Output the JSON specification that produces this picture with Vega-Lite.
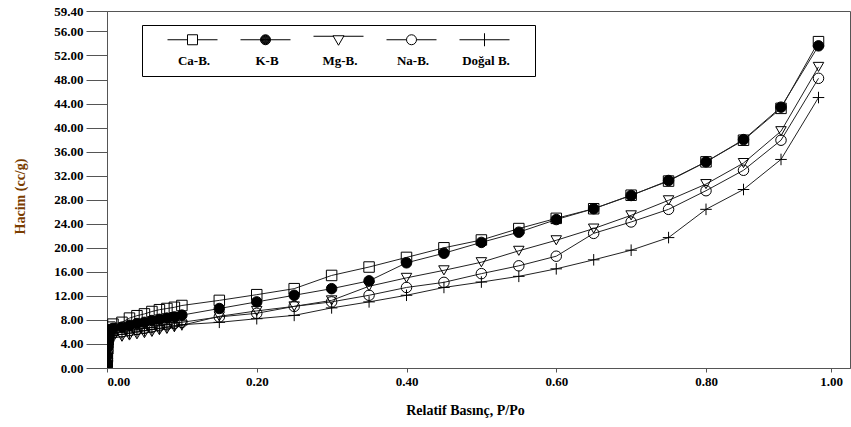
{
  "$schema": "https://vega.github.io/schema/vega-lite/v6.json",
  "width": 743,
  "height": 357,
  "autosize": {"type": "none"},
  "padding": {"left": 107, "top": 11, "right": 1, "bottom": 59},
  "background": "white",
  "config": {
    "view": {"stroke": "#555", "strokeWidth": 1},
    "axis": {
      "labelFont": "Liberation Serif", "labelFontSize": 13, "labelFontWeight": "bold", "labelColor": "black",
      "titleFont": "Liberation Serif", "titleFontSize": 14, "titleFontWeight": "bold", "titleColor": "black",
      "domainColor": "#555", "tickColor": "#555", "grid": false
    }
  },
  "data": {"values": [
    {"seri":"Ca-B.","p":0.0002,"v":0.4},{"seri":"Ca-B.","p":0.0005,"v":1.8},{"seri":"Ca-B.","p":0.001,"v":3.3},{"seri":"Ca-B.","p":0.0015,"v":4.7},{"seri":"Ca-B.","p":0.002,"v":5.8},{"seri":"Ca-B.","p":0.004,"v":6.8},{"seri":"Ca-B.","p":0.008,"v":7.3},
    {"seri":"Ca-B.","p":0.02,"v":7.6},{"seri":"Ca-B.","p":0.03,"v":8.3},{"seri":"Ca-B.","p":0.04,"v":8.7},{"seri":"Ca-B.","p":0.05,"v":9.0},{"seri":"Ca-B.","p":0.06,"v":9.4},{"seri":"Ca-B.","p":0.07,"v":9.7},{"seri":"Ca-B.","p":0.08,"v":9.9},{"seri":"Ca-B.","p":0.09,"v":10.1},{"seri":"Ca-B.","p":0.10,"v":10.4},
    {"seri":"Ca-B.","p":0.15,"v":11.25},{"seri":"Ca-B.","p":0.20,"v":12.2},{"seri":"Ca-B.","p":0.25,"v":13.2},{"seri":"Ca-B.","p":0.30,"v":15.4},{"seri":"Ca-B.","p":0.35,"v":16.8},{"seri":"Ca-B.","p":0.40,"v":18.4},{"seri":"Ca-B.","p":0.45,"v":20.0},{"seri":"Ca-B.","p":0.50,"v":21.3},{"seri":"Ca-B.","p":0.55,"v":23.2},{"seri":"Ca-B.","p":0.60,"v":24.9},{"seri":"Ca-B.","p":0.65,"v":26.5},{"seri":"Ca-B.","p":0.70,"v":28.75},{"seri":"Ca-B.","p":0.75,"v":31.1},{"seri":"Ca-B.","p":0.80,"v":34.3},{"seri":"Ca-B.","p":0.86,"v":37.9},{"seri":"Ca-B.","p":0.92,"v":43.2},{"seri":"Ca-B.","p":0.98,"v":54.3},

    {"seri":"K-B","p":0.0002,"v":0.6},{"seri":"K-B","p":0.0005,"v":2.0},{"seri":"K-B","p":0.001,"v":3.5},{"seri":"K-B","p":0.0015,"v":4.8},{"seri":"K-B","p":0.002,"v":5.7},{"seri":"K-B","p":0.004,"v":6.4},{"seri":"K-B","p":0.008,"v":6.6},
    {"seri":"K-B","p":0.02,"v":6.8},{"seri":"K-B","p":0.03,"v":7.1},{"seri":"K-B","p":0.04,"v":7.4},{"seri":"K-B","p":0.05,"v":7.6},{"seri":"K-B","p":0.06,"v":7.9},{"seri":"K-B","p":0.07,"v":8.1},{"seri":"K-B","p":0.08,"v":8.3},{"seri":"K-B","p":0.09,"v":8.5},{"seri":"K-B","p":0.10,"v":8.8},
    {"seri":"K-B","p":0.15,"v":9.9},{"seri":"K-B","p":0.20,"v":11.0},{"seri":"K-B","p":0.25,"v":12.1},{"seri":"K-B","p":0.30,"v":13.2},{"seri":"K-B","p":0.35,"v":14.5},{"seri":"K-B","p":0.40,"v":17.5},{"seri":"K-B","p":0.45,"v":19.1},{"seri":"K-B","p":0.50,"v":20.9},{"seri":"K-B","p":0.55,"v":22.6},{"seri":"K-B","p":0.60,"v":24.7},{"seri":"K-B","p":0.65,"v":26.5},{"seri":"K-B","p":0.70,"v":28.7},{"seri":"K-B","p":0.75,"v":31.2},{"seri":"K-B","p":0.80,"v":34.3},{"seri":"K-B","p":0.86,"v":38.0},{"seri":"K-B","p":0.92,"v":43.4},{"seri":"K-B","p":0.98,"v":53.6},

    {"seri":"Mg-B.","p":0.0002,"v":0.3},{"seri":"Mg-B.","p":0.0005,"v":1.4},{"seri":"Mg-B.","p":0.001,"v":2.6},{"seri":"Mg-B.","p":0.0015,"v":3.6},{"seri":"Mg-B.","p":0.002,"v":4.3},{"seri":"Mg-B.","p":0.004,"v":4.8},{"seri":"Mg-B.","p":0.008,"v":5.0},
    {"seri":"Mg-B.","p":0.02,"v":5.2},{"seri":"Mg-B.","p":0.03,"v":5.4},{"seri":"Mg-B.","p":0.04,"v":5.6},{"seri":"Mg-B.","p":0.05,"v":5.8},{"seri":"Mg-B.","p":0.06,"v":6.0},{"seri":"Mg-B.","p":0.07,"v":6.3},{"seri":"Mg-B.","p":0.08,"v":6.5},{"seri":"Mg-B.","p":0.09,"v":6.8},{"seri":"Mg-B.","p":0.10,"v":7.1},
    {"seri":"Mg-B.","p":0.15,"v":8.6},{"seri":"Mg-B.","p":0.20,"v":9.5},{"seri":"Mg-B.","p":0.25,"v":10.25},{"seri":"Mg-B.","p":0.30,"v":11.25},{"seri":"Mg-B.","p":0.35,"v":13.6},{"seri":"Mg-B.","p":0.40,"v":15.0},{"seri":"Mg-B.","p":0.45,"v":16.25},{"seri":"Mg-B.","p":0.50,"v":17.6},{"seri":"Mg-B.","p":0.55,"v":19.5},{"seri":"Mg-B.","p":0.60,"v":21.25},{"seri":"Mg-B.","p":0.65,"v":23.2},{"seri":"Mg-B.","p":0.70,"v":25.4},{"seri":"Mg-B.","p":0.75,"v":27.9},{"seri":"Mg-B.","p":0.80,"v":30.6},{"seri":"Mg-B.","p":0.86,"v":34.1},{"seri":"Mg-B.","p":0.92,"v":39.4},{"seri":"Mg-B.","p":0.98,"v":50.1},

    {"seri":"Na-B.","p":0.0002,"v":0.5},{"seri":"Na-B.","p":0.0005,"v":1.6},{"seri":"Na-B.","p":0.001,"v":2.9},{"seri":"Na-B.","p":0.0015,"v":4.0},{"seri":"Na-B.","p":0.002,"v":4.9},{"seri":"Na-B.","p":0.004,"v":5.5},{"seri":"Na-B.","p":0.008,"v":5.8},
    {"seri":"Na-B.","p":0.02,"v":6.0},{"seri":"Na-B.","p":0.03,"v":6.2},{"seri":"Na-B.","p":0.04,"v":6.4},{"seri":"Na-B.","p":0.05,"v":6.6},{"seri":"Na-B.","p":0.06,"v":6.8},{"seri":"Na-B.","p":0.07,"v":7.0},{"seri":"Na-B.","p":0.08,"v":7.2},{"seri":"Na-B.","p":0.09,"v":7.4},{"seri":"Na-B.","p":0.10,"v":7.6},
    {"seri":"Na-B.","p":0.15,"v":8.5},{"seri":"Na-B.","p":0.20,"v":9.1},{"seri":"Na-B.","p":0.25,"v":10.25},{"seri":"Na-B.","p":0.30,"v":11.0},{"seri":"Na-B.","p":0.35,"v":12.1},{"seri":"Na-B.","p":0.40,"v":13.4},{"seri":"Na-B.","p":0.45,"v":14.25},{"seri":"Na-B.","p":0.50,"v":15.7},{"seri":"Na-B.","p":0.55,"v":17.0},{"seri":"Na-B.","p":0.60,"v":18.6},{"seri":"Na-B.","p":0.65,"v":22.4},{"seri":"Na-B.","p":0.70,"v":24.3},{"seri":"Na-B.","p":0.75,"v":26.4},{"seri":"Na-B.","p":0.80,"v":29.5},{"seri":"Na-B.","p":0.86,"v":32.9},{"seri":"Na-B.","p":0.92,"v":37.9},{"seri":"Na-B.","p":0.98,"v":48.2},

    {"seri":"Doğal B.","p":0.0002,"v":0.2},{"seri":"Doğal B.","p":0.0005,"v":1.2},{"seri":"Doğal B.","p":0.001,"v":2.4},{"seri":"Doğal B.","p":0.0015,"v":3.5},{"seri":"Doğal B.","p":0.002,"v":4.4},{"seri":"Doğal B.","p":0.004,"v":5.1},{"seri":"Doğal B.","p":0.008,"v":5.4},
    {"seri":"Doğal B.","p":0.02,"v":5.6},{"seri":"Doğal B.","p":0.03,"v":5.8},{"seri":"Doğal B.","p":0.04,"v":6.0},{"seri":"Doğal B.","p":0.05,"v":6.2},{"seri":"Doğal B.","p":0.06,"v":6.4},{"seri":"Doğal B.","p":0.07,"v":6.6},{"seri":"Doğal B.","p":0.08,"v":6.8},{"seri":"Doğal B.","p":0.09,"v":7.0},{"seri":"Doğal B.","p":0.10,"v":7.2},
    {"seri":"Doğal B.","p":0.15,"v":7.6},{"seri":"Doğal B.","p":0.20,"v":8.2},{"seri":"Doğal B.","p":0.25,"v":8.75},{"seri":"Doğal B.","p":0.30,"v":10.0},{"seri":"Doğal B.","p":0.35,"v":11.0},{"seri":"Doğal B.","p":0.40,"v":12.1},{"seri":"Doğal B.","p":0.45,"v":13.4},{"seri":"Doğal B.","p":0.50,"v":14.3},{"seri":"Doğal B.","p":0.55,"v":15.25},{"seri":"Doğal B.","p":0.60,"v":16.5},{"seri":"Doğal B.","p":0.65,"v":18.0},{"seri":"Doğal B.","p":0.70,"v":19.6},{"seri":"Doğal B.","p":0.75,"v":21.7},{"seri":"Doğal B.","p":0.80,"v":26.4},{"seri":"Doğal B.","p":0.86,"v":29.7},{"seri":"Doğal B.","p":0.92,"v":34.7},{"seri":"Doğal B.","p":0.98,"v":45.0}
  ]},
  "encoding": {
    "x": {
      "field": "p", "type": "quantitative",
      "scale": {"domain": [0, 0.8, 1.0304], "range": [0, 599, 743], "nice": false, "zero": false},
      "axis": {
        "values": [0, 0.2, 0.4, 0.6, 0.8, 1.0], "format": ".2f",
        "tickSize": 4, "labelPadding": 3,
        "title": "Relatif Basınç, P/Po",
        "titleX": 358, "titleY": 42, "titleAlign": "center", "titleBaseline": "middle"
      }
    },
    "y": {
      "field": "v", "type": "quantitative",
      "scale": {"domain": [0, 59.4], "nice": false, "zero": false},
      "axis": {
        "values": [0, 4, 8, 12, 16, 20, 24, 28, 32, 36, 40, 44, 48, 52, 56, 59.4], "format": ".2f",
        "tickSize": 21, "labelPadding": 3,
        "title": "Hacim (cc/g)", "titleColor": "#7a3d00",
        "titleX": -87, "titleY": 185, "titleAngle": 270, "titleAlign": "center", "titleBaseline": "middle"
      }
    }
  },
  "resolve": {
    "scale": {"shape": "independent", "fill": "independent"},
    "legend": {"shape": "independent", "fill": "independent"}
  },
  "layer": [
    {
      "mark": {"type": "line", "color": "#222", "strokeWidth": 1, "clip": true},
      "encoding": {"detail": {"field": "seri"}}
    },
    {
      "mark": {"type": "point", "filled": false, "stroke": "black", "strokeWidth": 1, "size": 110, "opacity": 1, "clip": true},
      "encoding": {
        "shape": {
          "field": "seri", "type": "nominal",
          "scale": {
            "domain": ["Doğal B.", "Na-B.", "Mg-B.", "K-B", "Ca-B."],
            "range": ["M-1.1,0H1.1M0,-1.1V1.1", "circle", "triangle-down", "circle", "square"]
          },
          "legend": null
        },
        "fill": {
          "field": "seri", "type": "nominal",
          "scale": {
            "domain": ["Doğal B.", "Na-B.", "Mg-B.", "K-B", "Ca-B."],
            "range": ["transparent", "transparent", "transparent", "black", "transparent"]
          },
          "legend": null
        }
      }
    },
    {
      "transform": [{"filter": "false"}],
      "mark": {"type": "point", "filled": false, "stroke": "black", "strokeWidth": 1, "opacity": 1},
      "encoding": {
        "shape": {
          "field": "seri", "type": "nominal",
          "scale": {
            "domain": ["Ca-B.", "K-B", "Mg-B.", "Na-B.", "Doğal B."],
            "range": [
              "M-5,0H-1M1,0H5M-1,-1H1V1H-1Z",
              "M-5,0H5M1,0A1,1 0 1,1 -1,0A1,1 0 1,1 1,0M0.9,0A0.9,0.9 0 1,1 -0.9,0A0.9,0.9 0 1,1 0.9,0M0.8,0A0.8,0.8 0 1,1 -0.8,0A0.8,0.8 0 1,1 0.8,0M0.7,0A0.7,0.7 0 1,1 -0.7,0A0.7,0.7 0 1,1 0.7,0M0.6,0A0.6,0.6 0 1,1 -0.6,0A0.6,0.6 0 1,1 0.6,0M0.5,0A0.5,0.5 0 1,1 -0.5,0A0.5,0.5 0 1,1 0.5,0M0.4,0A0.4,0.4 0 1,1 -0.4,0A0.4,0.4 0 1,1 0.4,0M0.3,0A0.3,0.3 0 1,1 -0.3,0A0.3,0.3 0 1,1 0.3,0M0.2,0A0.2,0.2 0 1,1 -0.2,0A0.2,0.2 0 1,1 0.2,0M0.1,0A0.1,0.1 0 1,1 -0.1,0A0.1,0.1 0 1,1 0.1,0",
              "M-5,-0.7H-1M1,-0.7H5M-1.1,-0.8H1.1L0,1.1Z",
              "M-5,0H-1M1,0H5M1,0A1,1 0 1,1 -1,0A1,1 0 1,1 1,0Z",
              "M-5,0H5M0,-1.3V1.3M8,0"
            ]
          },
          "legend": {
            "title": null, "orient": "none", "direction": "horizontal",
            "legendX": 35, "legendY": 14,
            "padding": 8, "columnPadding": 3,
            "strokeColor": "black", "fillColor": "white",
            "symbolSize": 100, "symbolStrokeWidth": 1, "symbolStrokeColor": "black", "symbolFillColor": "transparent",
            "symbolOffset": 36,
            "labelFont": "Liberation Serif", "labelFontSize": 13, "labelFontWeight": "bold", "labelColor": "black",
            "labelAlign": "center", "labelBaseline": "top", "labelOffset": -5, "labelLineHeight": 5,
            "labelExpr": "['', datum.label]"
          }
        }
      }
    }
  ]
}
